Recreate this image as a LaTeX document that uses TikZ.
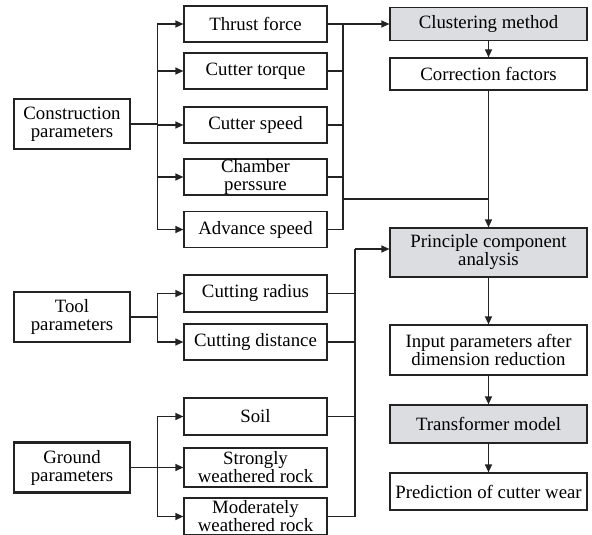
\documentclass[tikz,border=0pt]{standalone}
\usepackage{fontspec}
\setmainfont{Liberation Serif}
\usetikzlibrary{arrows.meta}
\definecolor{boxgray}{RGB}{220,221,224}
\definecolor{ink}{RGB}{35,35,35}
\tikzset{
  x=1pt, y=-1pt,
  every node/.style={font=\fontsize{18.8}{18}\selectfont, text=black, align=center, inner sep=0pt},
  group/.style={draw=ink, line width=2.8pt, minimum width=116pt, minimum height=50pt},
  item/.style={draw=ink, line width=1.2pt, minimum width=143pt, minimum height=36pt},
  stage/.style={draw=ink, line width=1.2pt, minimum width=197pt},
  shaded/.style={stage, fill=boxgray},
  link/.style={draw=ink, line width=1.2pt},
  arr/.style={link, -{Stealth[length=8pt, width=7pt, inset=0pt]}},
}
\begin{document}
\begin{tikzpicture}
\useasboundingbox (0,0) rectangle (592,535);

% parameter groups
\node[group] (cons)   at (72,124)   {Construction\\parameters};
\node[group] (tool)   at (72,317)   {Tool\\parameters};
\node[group] (ground) at (72,467.5) {Ground\\parameters};

% construction parameters
\node[item] (thrust)  at (255.5,24)    {Thrust force};
\node[item] (torque)  at (255.5,71)    {Cutter torque};
\node[item] (speed)   at (255.5,125)   {Cutter speed};
\node[item] (chamber) at (255.5,177)   {\fontsize{18.8}{15}\selectfont Chamber\\perssure};
\node[item] (advance) at (255.5,229.5) {Advance speed};

% tool parameters
\node[item, minimum height=37pt] (radius)   at (255.5,293.5) {Cutting radius};
\node[item] (distance) at (255.5,342) {Cutting distance};

% ground parameters
\node[item, minimum height=37pt] (soil)   at (255.5,416.5) {Soil};
\node[item, minimum height=39pt] (strong) at (255.5,467.5) {Strongly\\weathered rock};
\node[item, minimum height=37pt] (moder)  at (255.5,516.5) {Moderately\\weathered rock};

% processing chain
\node[shaded, minimum height=33pt] (clus)  at (488.5,24)    {Clustering method};
\node[stage,  minimum height=32pt] (corr)  at (488.5,74)    {Correction factors};
\node[shaded, minimum height=49pt] (pca)   at (488.5,252.5) {Principle component\\analysis};
\node[stage,  minimum height=50pt] (input) at (488.5,350)   {Input parameters after\\dimension reduction};
\node[shaded, minimum height=38pt] (trans) at (488.5,424)   {Transformer model};
\node[stage,  minimum height=37pt] (pred)  at (488.5,491.5) {Prediction of cutter wear};

% junction points of the collecting lines
\coordinate (jr) at (343,24);
\coordinate (jm) at (343,199);
\coordinate (jp) at (355,249);

% fan-out from the groups
\foreach \c in {thrust,torque,speed,chamber,advance}
  \draw[arr] (cons.east) -- ++(26,0) |- (\c.west);
\foreach \c in {radius,distance}
  \draw[arr] (tool.east) -- ++(26,0) |- (\c.west);
\foreach \c in {soil,strong,moder}
  \draw[arr] (ground.east) -- ++(26,0) |- (\c.west);

% construction parameters collected
\foreach \c in {torque,speed,chamber,advance}
  \draw[link] (\c.east) -| (jr);
\draw[arr] (thrust.east) -- (clus.west);
\draw[link] (jm) -- (jm -| corr.south);

% tool and ground parameters collected
\foreach \c in {radius,distance,soil,moder}
  \draw[link] (\c.east) -| (jp);
\draw[arr] (jp) -- (jp -| pca.west);

% processing chain
\draw[arr] (clus) -- (corr);
\draw[arr] (corr) -- (pca);
\draw[arr] (pca) -- (input);
\draw[arr] (input) -- (trans);
\draw[arr] (trans) -- (pred);
\end{tikzpicture}
\end{document}
